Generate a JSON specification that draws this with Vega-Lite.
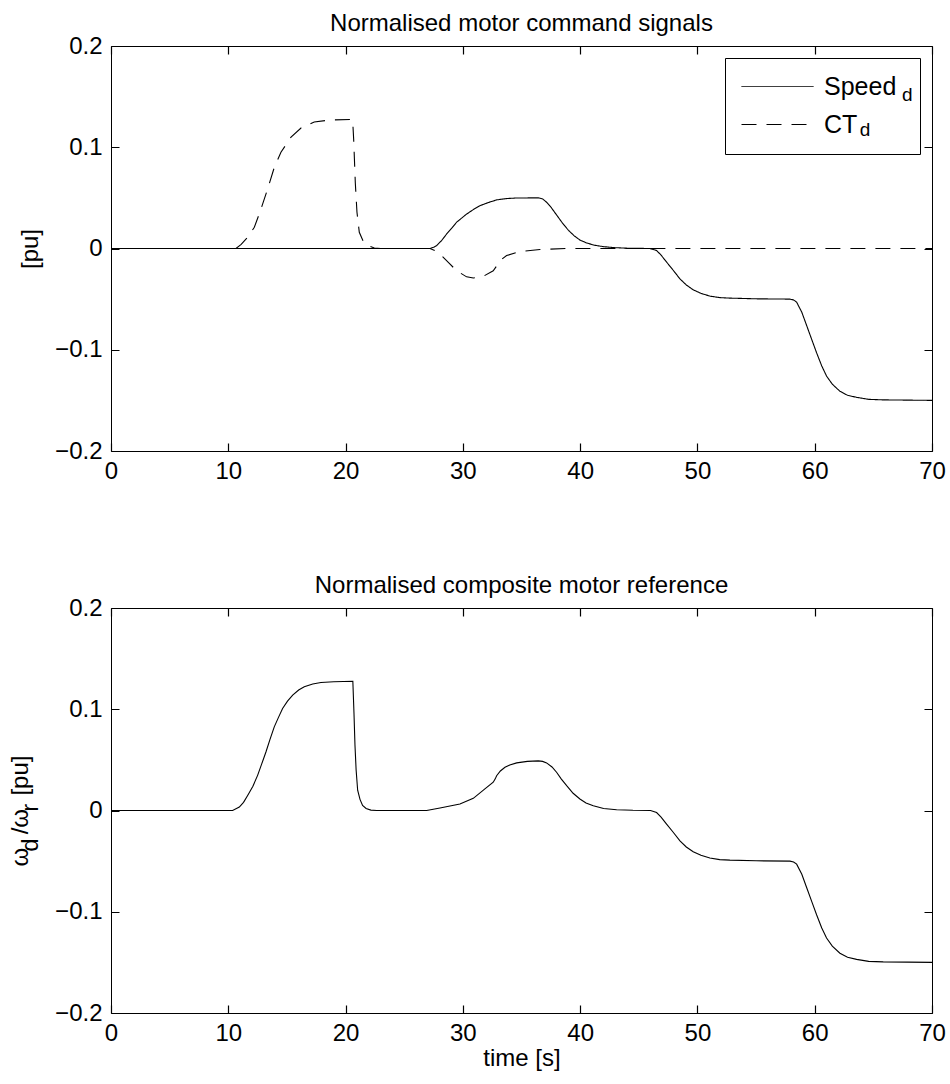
{
  "$schema": "https://vega.github.io/schema/vega-lite/v6.json",
  "background": "white",
  "padding": {"left": 8, "top": 11, "right": 5, "bottom": 5},
  "spacing": 89,
  "config": {
    "font": "Liberation Sans",
    "view": {"stroke": "#000", "strokeWidth": 1},
    "axis": {
      "domain": false,
      "ticks": false,
      "grid": true,
      "gridColor": "#000",
      "gridOpacity": 1,
      "gridWidth": 1.2,
      "labelColor": "#000",
      "titleColor": "#000",
      "labelFont": "Liberation Sans",
      "titleFont": "Liberation Sans",
      "labelFontSize": 24,
      "titleFontSize": 24,
      "titleFontWeight": "normal",
      "labelFlush": false,
      "labelOverlap": false
    },
    "title": {"font": "Liberation Sans", "fontSize": 24, "fontWeight": "normal", "color": "#000", "offset": -2, "anchor": "middle"}
  },
  "datasets": {
    "cmd": [
      {"t": 0, "v": 0, "s": "Speed_d"},
      {"t": 27.2, "v": 0, "s": "Speed_d"},
      {"t": 27.5, "v": 0.0012, "s": "Speed_d"},
      {"t": 27.77, "v": 0.003, "s": "Speed_d"},
      {"t": 28.2, "v": 0.008, "s": "Speed_d"},
      {"t": 28.62, "v": 0.0144, "s": "Speed_d"},
      {"t": 29.05, "v": 0.02, "s": "Speed_d"},
      {"t": 29.47, "v": 0.026, "s": "Speed_d"},
      {"t": 30.32, "v": 0.034, "s": "Speed_d"},
      {"t": 30.9, "v": 0.0385, "s": "Speed_d"},
      {"t": 31.46, "v": 0.0423, "s": "Speed_d"},
      {"t": 32.2, "v": 0.0455, "s": "Speed_d"},
      {"t": 32.88, "v": 0.048, "s": "Speed_d"},
      {"t": 33.7, "v": 0.0493, "s": "Speed_d"},
      {"t": 34.59, "v": 0.0499, "s": "Speed_d"},
      {"t": 36.43, "v": 0.05, "s": "Speed_d"},
      {"t": 36.8, "v": 0.049, "s": "Speed_d"},
      {"t": 37.14, "v": 0.0457, "s": "Speed_d"},
      {"t": 37.5, "v": 0.041, "s": "Speed_d"},
      {"t": 38.0, "v": 0.033, "s": "Speed_d"},
      {"t": 38.5, "v": 0.025, "s": "Speed_d"},
      {"t": 39.0, "v": 0.018, "s": "Speed_d"},
      {"t": 39.5, "v": 0.0125, "s": "Speed_d"},
      {"t": 40.0, "v": 0.0082, "s": "Speed_d"},
      {"t": 40.55, "v": 0.0055, "s": "Speed_d"},
      {"t": 41.2, "v": 0.0033, "s": "Speed_d"},
      {"t": 42.0, "v": 0.0018, "s": "Speed_d"},
      {"t": 43.0, "v": 0.0008, "s": "Speed_d"},
      {"t": 44.0, "v": 0.0003, "s": "Speed_d"},
      {"t": 45.95, "v": 0, "s": "Speed_d"},
      {"t": 46.52, "v": -0.002, "s": "Speed_d"},
      {"t": 46.9, "v": -0.0065, "s": "Speed_d"},
      {"t": 47.37, "v": -0.0134, "s": "Speed_d"},
      {"t": 47.9, "v": -0.021, "s": "Speed_d"},
      {"t": 48.51, "v": -0.03, "s": "Speed_d"},
      {"t": 49.05, "v": -0.036, "s": "Speed_d"},
      {"t": 49.64, "v": -0.0408, "s": "Speed_d"},
      {"t": 50.3, "v": -0.0443, "s": "Speed_d"},
      {"t": 51.06, "v": -0.047, "s": "Speed_d"},
      {"t": 51.9, "v": -0.0485, "s": "Speed_d"},
      {"t": 52.77, "v": -0.049, "s": "Speed_d"},
      {"t": 55.0, "v": -0.0497, "s": "Speed_d"},
      {"t": 57.89, "v": -0.05, "s": "Speed_d"},
      {"t": 58.2, "v": -0.0508, "s": "Speed_d"},
      {"t": 58.46, "v": -0.053, "s": "Speed_d"},
      {"t": 58.9, "v": -0.063, "s": "Speed_d"},
      {"t": 59.31, "v": -0.076, "s": "Speed_d"},
      {"t": 59.75, "v": -0.09, "s": "Speed_d"},
      {"t": 60.16, "v": -0.103, "s": "Speed_d"},
      {"t": 60.6, "v": -0.116, "s": "Speed_d"},
      {"t": 61.01, "v": -0.126, "s": "Speed_d"},
      {"t": 61.5, "v": -0.134, "s": "Speed_d"},
      {"t": 62.15, "v": -0.141, "s": "Speed_d"},
      {"t": 62.8, "v": -0.145, "s": "Speed_d"},
      {"t": 63.57, "v": -0.147, "s": "Speed_d"},
      {"t": 64.6, "v": -0.149, "s": "Speed_d"},
      {"t": 65.84, "v": -0.1495, "s": "Speed_d"},
      {"t": 70, "v": -0.15, "s": "Speed_d"},
      {"t": 0, "v": 0, "s": "CT_d"},
      {"t": 10.66, "v": 0, "s": "CT_d"},
      {"t": 11.1, "v": 0.004, "s": "CT_d"},
      {"t": 11.65, "v": 0.011, "s": "CT_d"},
      {"t": 12.22, "v": 0.021, "s": "CT_d"},
      {"t": 12.7, "v": 0.036, "s": "CT_d"},
      {"t": 13.36, "v": 0.059, "s": "CT_d"},
      {"t": 13.92, "v": 0.08, "s": "CT_d"},
      {"t": 14.49, "v": 0.095, "s": "CT_d"},
      {"t": 15.35, "v": 0.11, "s": "CT_d"},
      {"t": 16.2, "v": 0.119, "s": "CT_d"},
      {"t": 17.33, "v": 0.125, "s": "CT_d"},
      {"t": 18.76, "v": 0.127, "s": "CT_d"},
      {"t": 20.6, "v": 0.1274, "s": "CT_d"},
      {"t": 20.69, "v": 0.108, "s": "CT_d"},
      {"t": 20.83, "v": 0.065, "s": "CT_d"},
      {"t": 20.97, "v": 0.036, "s": "CT_d"},
      {"t": 21.17, "v": 0.016, "s": "CT_d"},
      {"t": 21.6, "v": 0.0045, "s": "CT_d"},
      {"t": 22.45, "v": 0.0005, "s": "CT_d"},
      {"t": 23.0, "v": 0, "s": "CT_d"},
      {"t": 27.2, "v": 0, "s": "CT_d"},
      {"t": 27.6, "v": -0.002, "s": "CT_d"},
      {"t": 28.05, "v": -0.0055, "s": "CT_d"},
      {"t": 28.76, "v": -0.0137, "s": "CT_d"},
      {"t": 29.47, "v": -0.022, "s": "CT_d"},
      {"t": 30.32, "v": -0.028, "s": "CT_d"},
      {"t": 30.89, "v": -0.0292, "s": "CT_d"},
      {"t": 31.74, "v": -0.0275, "s": "CT_d"},
      {"t": 32.59, "v": -0.022, "s": "CT_d"},
      {"t": 32.9, "v": -0.017, "s": "CT_d"},
      {"t": 33.16, "v": -0.012, "s": "CT_d"},
      {"t": 33.73, "v": -0.007, "s": "CT_d"},
      {"t": 34.87, "v": -0.003, "s": "CT_d"},
      {"t": 36.57, "v": -0.001, "s": "CT_d"},
      {"t": 38.85, "v": 0, "s": "CT_d"},
      {"t": 70, "v": 0, "s": "CT_d"}
    ],
    "comp": [
      {"t": 0, "v": 0},
      {"t": 10.37, "v": 0},
      {"t": 10.94, "v": 0.0034},
      {"t": 11.3, "v": 0.008},
      {"t": 11.65, "v": 0.0149},
      {"t": 12.1, "v": 0.024},
      {"t": 12.5, "v": 0.0347},
      {"t": 12.85, "v": 0.046},
      {"t": 13.21, "v": 0.0578},
      {"t": 13.55, "v": 0.07},
      {"t": 13.92, "v": 0.0826},
      {"t": 14.28, "v": 0.092},
      {"t": 14.63, "v": 0.1007},
      {"t": 15.05, "v": 0.108},
      {"t": 15.49, "v": 0.114},
      {"t": 16.0, "v": 0.119},
      {"t": 16.48, "v": 0.1222},
      {"t": 17.2, "v": 0.125},
      {"t": 17.9, "v": 0.1264},
      {"t": 19.0, "v": 0.1272},
      {"t": 20.62, "v": 0.1277},
      {"t": 20.72, "v": 0.095},
      {"t": 20.8, "v": 0.065},
      {"t": 20.9, "v": 0.04},
      {"t": 21.03, "v": 0.02},
      {"t": 21.23, "v": 0.011},
      {"t": 21.45, "v": 0.005},
      {"t": 21.75, "v": 0.002},
      {"t": 22.16, "v": 0.0004},
      {"t": 22.65, "v": 0},
      {"t": 26.91, "v": 0},
      {"t": 28.05, "v": 0.0025},
      {"t": 29.75, "v": 0.0064},
      {"t": 30.89, "v": 0.012},
      {"t": 31.88, "v": 0.0213},
      {"t": 32.59, "v": 0.0279},
      {"t": 32.75, "v": 0.031},
      {"t": 32.88, "v": 0.0344},
      {"t": 33.2, "v": 0.039},
      {"t": 33.59, "v": 0.0427},
      {"t": 34.0, "v": 0.045},
      {"t": 34.59, "v": 0.047},
      {"t": 35.5, "v": 0.0485},
      {"t": 36.43, "v": 0.049},
      {"t": 36.8, "v": 0.0485},
      {"t": 37.14, "v": 0.047},
      {"t": 37.6, "v": 0.043},
      {"t": 37.99, "v": 0.0378},
      {"t": 38.4, "v": 0.031},
      {"t": 38.85, "v": 0.0245},
      {"t": 39.4, "v": 0.017},
      {"t": 39.98, "v": 0.0114},
      {"t": 40.5, "v": 0.0075},
      {"t": 41.12, "v": 0.0047},
      {"t": 42.0, "v": 0.002},
      {"t": 43.11, "v": 0.0008},
      {"t": 44.5, "v": 0.0002},
      {"t": 46.0, "v": 0},
      {"t": 46.52, "v": -0.002},
      {"t": 46.9, "v": -0.0065},
      {"t": 47.37, "v": -0.0134},
      {"t": 47.9, "v": -0.021},
      {"t": 48.51, "v": -0.03},
      {"t": 49.05, "v": -0.036},
      {"t": 49.64, "v": -0.0408},
      {"t": 50.3, "v": -0.0443},
      {"t": 51.06, "v": -0.047},
      {"t": 51.9, "v": -0.0485},
      {"t": 52.77, "v": -0.049},
      {"t": 55.0, "v": -0.0497},
      {"t": 57.89, "v": -0.05},
      {"t": 58.2, "v": -0.0508},
      {"t": 58.46, "v": -0.053},
      {"t": 58.9, "v": -0.063},
      {"t": 59.31, "v": -0.076},
      {"t": 59.75, "v": -0.09},
      {"t": 60.16, "v": -0.103},
      {"t": 60.6, "v": -0.116},
      {"t": 61.01, "v": -0.126},
      {"t": 61.5, "v": -0.134},
      {"t": 62.15, "v": -0.141},
      {"t": 62.8, "v": -0.145},
      {"t": 63.57, "v": -0.147},
      {"t": 64.6, "v": -0.149},
      {"t": 65.84, "v": -0.1495},
      {"t": 70, "v": -0.15}
    ]
  },
  "vconcat": [
    {
      "width": 821,
      "height": 405,
      "title": {"text": "Normalised motor command signals"},
      "data": {"name": "cmd"},
      "layer": [
        {
          "mark": {"type": "line", "color": "#000", "strokeWidth": 1.1},
          "encoding": {
            "x": {"field": "t", "type": "quantitative", "scale": {"domain": [0, 70], "nice": false, "zero": false},
                  "axis": {"orient": "bottom", "values": [0, 10, 20, 30, 40, 50, 60, 70], "gridDash": [8, 389, 8, 2000], "labelPadding": 8, "title": null}},
            "y": {"field": "v", "type": "quantitative", "scale": {"domain": [-0.2, 0.2], "nice": false},
                  "axis": {"orient": "left", "values": [-0.2, -0.1, 0, 0.1, 0.2], "gridDash": [8, 805, 8, 2000], "format": "~g", "labelPadding": 9, "title": "[pu]", "titlePadding": 12}},
            "strokeDash": {"field": "s", "type": "nominal", "sort": ["Speed_d", "CT_d"],
                  "scale": {"domain": ["Speed_d", "CT_d"], "range": [[1, 0], [15, 10]]},
                  "legend": {"orient": "top-right", "offset": 12, "title": null, "values": ["Speed_d", "CT_d"],
                             "labelExpr": "datum.value === 'Speed_d' ? 'Speed\u00a0\u200b' : 'CT'",
                             "labelFontSize": 25, "labelColor": "#000", "labelFont": "Liberation Sans",
                             "symbolType": "M-1,0H5", "symbolSize": 576, "symbolStrokeWidth": 1, "symbolStrokeColor": "#000", "symbolFillColor": "transparent",
                             "labelOffset": 58, "padding": 16, "rowPadding": 12,
                             "strokeColor": "#000", "fillColor": "#fff"}}
          }
        },
        {
          "mark": {"type": "line", "color": "#000"},
          "encoding": {
            "x": {"field": "t", "type": "quantitative", "axis": null},
            "y": {"field": "v", "type": "quantitative", "axis": null},
            "opacity": {"field": "s", "type": "nominal", "sort": ["Speed_d", "CT_d"],
                  "scale": {"domain": ["Speed_d", "CT_d"], "range": [0, 0]},
                  "legend": {"orient": "none", "legendX": 618, "legendY": 20, "title": null, "values": ["Speed_d", "CT_d"],
                             "labelExpr": "datum.value === 'Speed_d' ? '\u200b\u00a0\u00a0\u00a0\u00a0\u00a0\u00a0\u00a0\u00a0\u00a0\u00a0\u00a0\u00a0\u00a0\u00a0d' : '\u200b\u00a0\u00a0\u00a0\u00a0\u00a0\u00a0d'",
                             "labelFontSize": 19, "labelColor": "#000", "labelFont": "Liberation Sans",
                             "symbolType": "M-1,0H5", "symbolSize": 576, "symbolStrokeWidth": 1, "symbolOpacity": 0,
                             "labelOffset": 58, "padding": 16, "rowPadding": 12}}
          }
        }
      ],
      "resolve": {"axis": {"x": "independent", "y": "independent"}}
    },
    {
      "width": 821,
      "height": 405,
      "title": {"text": "Normalised composite motor reference"},
      "data": {"name": "comp"},
      "mark": {"type": "line", "color": "#000", "strokeWidth": 1.1},
      "encoding": {
        "x": {"field": "t", "type": "quantitative", "scale": {"domain": [0, 70], "nice": false, "zero": false},
              "axis": {"orient": "bottom", "values": [0, 10, 20, 30, 40, 50, 60, 70], "gridDash": [8, 389, 8, 2000], "labelPadding": 8, "title": "time [s]", "titlePadding": 1}},
        "y": {"field": "v", "type": "quantitative", "scale": {"domain": [-0.2, 0.2], "nice": false},
              "axis": {"orient": "left", "values": [-0.2, -0.1, 0, 0.1, 0.2], "gridDash": [8, 805, 8, 2000], "format": "~g", "labelPadding": 9,
                       "title": ["ω\u00a0\u00a0/ω\u00a0\u00a0[pu]", "\u200b\u00a0\u00a0d\u00a0\u00a0\u00a0\u00a0r\u00a0\u00a0\u00a0\u00a0\u00a0\u00a0\u00a0\u200b"],
                       "titleLineHeight": 10, "titlePadding": 12}}
      }
    }
  ]
}
